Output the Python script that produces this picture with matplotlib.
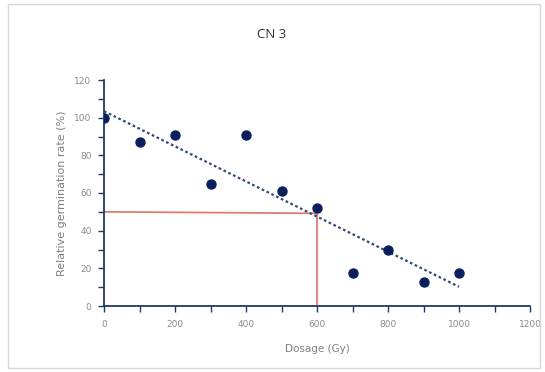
import matplotlib
matplotlib.use("Agg")
import matplotlib.pyplot as plt
import numpy as np
from matplotlib.patches import Rectangle
from matplotlib.ticker import MultipleLocator

dosage = [0, 100, 200, 300, 400, 500, 600, 700, 800, 900, 1000]
germination = [100, 87, 91, 65, 91, 61, 52, 17.5, 30, 13, 17.5]
ld50_dose = 600
ld50_rate = 50

plt.rcParams['font.family'] = ['DejaVu Sans']

fig = plt.figure(figsize=(5.45, 3.72), dpi=100)
fig.patches.append(Rectangle((8/545, 1-368/372), 532/545, 364/372, transform=fig.transFigure,
                             fill=False, edgecolor='#d9d9d9', linewidth=1.0))
ax = fig.add_axes([104/545, 1-306/372, 426/545, 226/372])

navy = '#1f3864'
ax.scatter(dosage, germination, s=42, color='#0a1f5c', zorder=3)
x = np.array(dosage, float)
y = np.array(germination, float)
m, b = np.polyfit(x, y, 1)
xs = np.array([x.min(), x.max()])
ax.plot(xs, m*xs + b, linestyle=(0, (1.2, 1.2)), color='#2f4a7a', linewidth=1.6, zorder=2)

ax.plot([0, ld50_dose], [ld50_rate, ld50_rate - 0.8], color='#e07b70', linewidth=1.3, zorder=1)
ax.plot([ld50_dose, ld50_dose], [0, ld50_rate - 0.8], color='#e07b70', linewidth=1.3, zorder=1)

ax.set_xlim(0, 1200)
ax.set_ylim(0, 120)
ax.xaxis.set_major_locator(MultipleLocator(200))
ax.xaxis.set_minor_locator(MultipleLocator(100))
ax.yaxis.set_major_locator(MultipleLocator(20))
ax.yaxis.set_minor_locator(MultipleLocator(10))
for s in ['top', 'right']:
    ax.spines[s].set_visible(False)
for s in ['left', 'bottom']:
    ax.spines[s].set_color(navy)
    ax.spines[s].set_linewidth(1.3)
ax.tick_params(which='both', direction='out', color=navy, width=1.0, length=4,
               labelsize=6.5, labelcolor='#8a8a8a')
ax.tick_params(axis='x', pad=6)
ax.tick_params(axis='y', pad=5)
ax.set_xlabel('Dosage (Gy)', fontsize=7.5, color='#7f7f7f', labelpad=11)
ax.set_ylabel('Relative germination rate (%)', fontsize=8, color='#7f7f7f', labelpad=5)
fig.text(272/545, 1-35/372, 'CN 3', ha='center', va='center', fontsize=9.5,
         color='#333333', family=['Open Sans', 'DejaVu Sans'])

fig.savefig('out.png', dpi=100)
